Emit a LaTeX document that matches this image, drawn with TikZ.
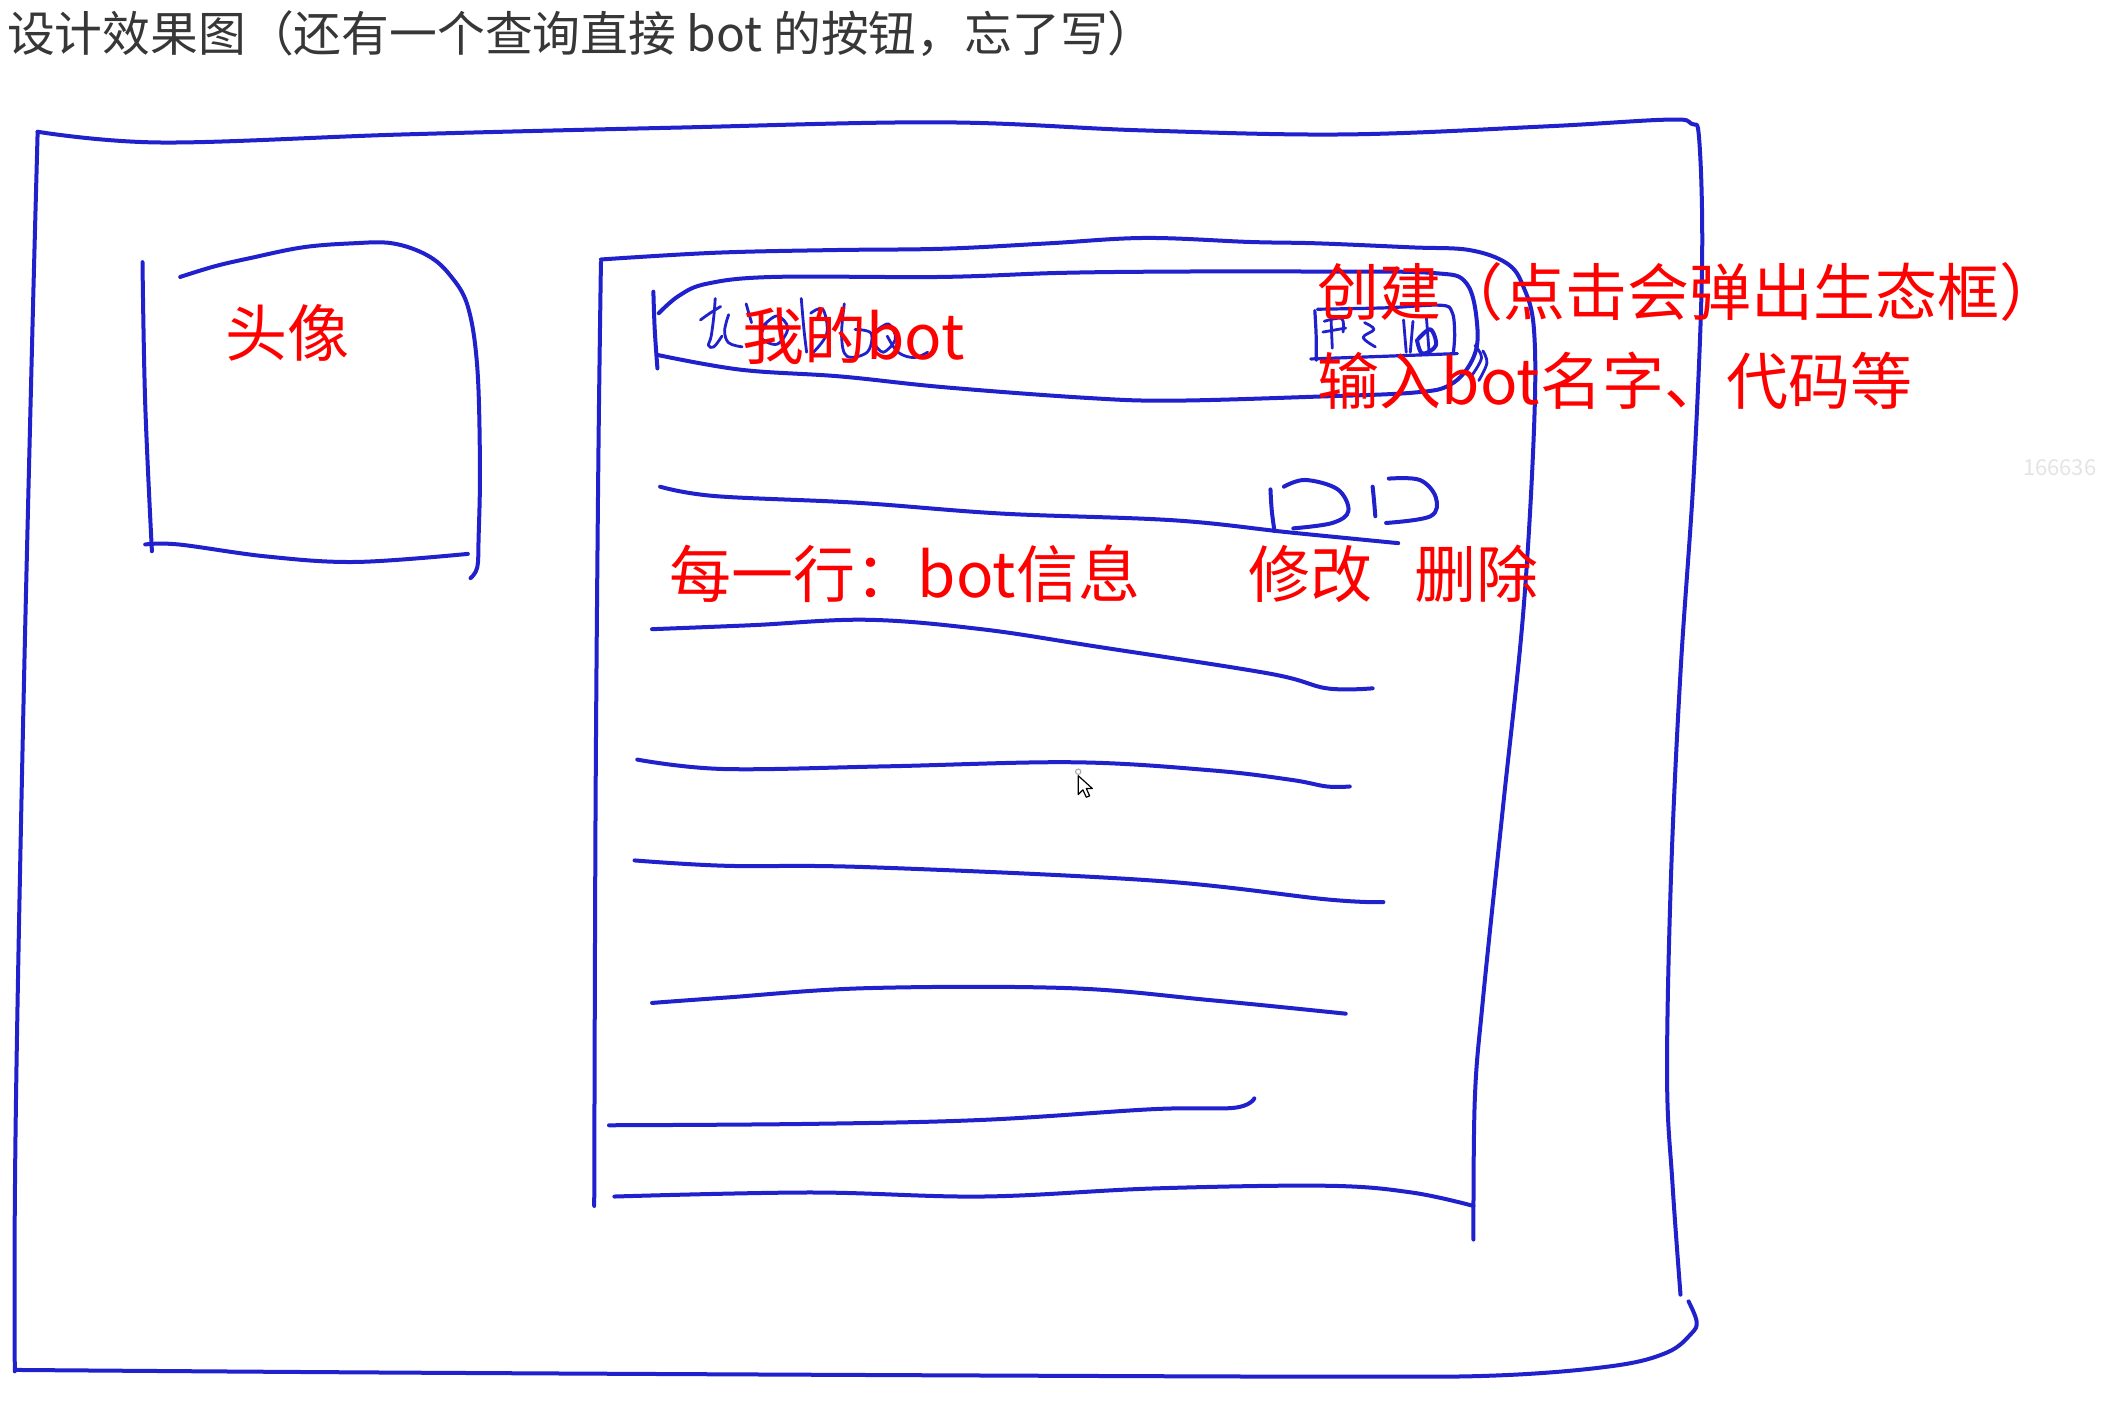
\documentclass[tikz,border=0pt]{standalone}
\usepackage{fontspec}
\newfontfamily\cjk{Noto Sans CJK SC}
\definecolor{penblue}{RGB}{32,32,205}
\definecolor{titlegray}{RGB}{55,55,55}
\definecolor{wmgray}{RGB}{228,228,228}
\begin{document}
\begin{tikzpicture}[x=0.6722pt,y=-0.6722pt,
  pen/.style={draw=penblue,line width=2pt,line cap=round,line join=round},
  thinpen/.style={draw=penblue,line width=1.4pt,line cap=round,line join=round},
  redlabel/.style={text=red,font=\cjk\fontsize{31}{31}\selectfont,inner sep=0pt},
  titletext/.style={text=titlegray,font=\cjk\fontsize{23.9}{23.9}\selectfont,inner sep=0pt},
  watermark/.style={text=wmgray,font=\cjk\fontsize{11}{11}\selectfont,inner sep=0pt}]
\fill[white] (0,0) rectangle (1568,1047);
\useasboundingbox (0,0) rectangle (1568,1047);

% title
\node[titletext,anchor=west] (title) at (5,25) {设计效果图（还有一个查询直接 bot 的按钮，忘了写）};
\node[watermark] (wm) at (1532,348) {166636};

% outer frame
\draw[pen] plot[smooth,tension=0.6] coordinates {(28,98) (120,106) (300,100) (500,95) (700,91) (850,97) (1000,100) (1150,94) (1240,89) (1258,92) (1264,105) (1266,200) (1260,350) (1250,500) (1243,650) (1240,800) (1244,880) (1250,963)};
\draw[pen] plot[smooth,tension=0.6] coordinates {(28,98) (24,250) (18,500) (13,750) (11,900) (11,1020)};
\draw[pen] plot[smooth,tension=0.6] coordinates {(12,1019) (300,1021) (700,1023) (1000,1024) (1116,1023) (1200,1016) (1240,1006) (1258,992) (1262,983) (1256,968)};

% avatar box
\draw[pen] plot[smooth,tension=0.6] coordinates {(106,195) (108,300) (113,410)};
\draw[pen] plot[smooth,tension=0.6] coordinates {(134,206) (160,198) (186,192) (225,184) (262,181) (292,181) (318,190) (335,205) (348,228) (355,273) (357,347) (356,400) (355,422) (350,430)};
\draw[pen] plot[smooth,tension=0.6] coordinates {(108,405) (133,405) (199,414) (265,418) (348,412)};
\node[redlabel] (avatar) at (214,248) {头像};

% inner panel
\draw[pen] plot[smooth,tension=0.6] coordinates {(447,195) (445,350) (443,600) (442,897)};
\draw[pen] plot[smooth,tension=0.6] coordinates {(447,193) (532,188) (620,186) (702,185) (780,181) (852,177) (930,180) (980,181) (1050,184) (1093,186) (1121,196) (1133,213) (1141,245) (1141,320) (1133,456) (1118,600) (1103,744) (1097,818) (1096,922)};
\draw[pen] plot[smooth,tension=0.6] coordinates {(457,890) (603,887) (731,890) (858,884) (987,882) (1050,887) (1096,897)};

% header bar
\draw[pen] plot[smooth,tension=0.6] coordinates {(486,217) (487,245) (489,274)};
\draw[pen] plot[smooth,tension=0.6] coordinates {(490,233) (505,220) (526,211) (575,206) (700,206) (788,203) (873,202) (980,202) (1065,203) (1091,211) (1099,245) (1095,268) (1079,286) (1052,292) (980,295) (873,298) (809,296) (702,288) (625,280) (551,275) (489,264)};
% handwritten scribble under the label
\draw[thinpen] plot[smooth,tension=0.6] coordinates {(521,238) (528,233) (536,228)};
\draw[thinpen] plot[smooth,tension=0.6] coordinates {(532,222) (531,235) (529,250) (527,257) (531,258) (537,250)};
\draw[thinpen] plot[smooth,tension=0.6] coordinates {(542,234) (539,246) (542,255) (552,258)};
\draw[thinpen] plot[smooth,tension=0.6] coordinates {(555,226) (559,240)};
\draw[thinpen] plot[smooth,tension=0.6] coordinates {(568,242) (578,235) (586,244) (578,256) (566,251) (570,241)};
\draw[thinpen] plot[smooth,tension=0.6] coordinates {(596,222) (598,245) (600,262)};
\draw[thinpen] plot[smooth,tension=0.6] coordinates {(603,233) (612,230) (615,248) (605,262)};
\draw[thinpen] plot[smooth,tension=0.6] coordinates {(628,226) (626,250) (630,265) (645,262) (648,248) (636,245)};
\draw[thinpen] plot[smooth,tension=0.6] coordinates {(652,246) (661,241) (666,252) (657,262) (650,255)};
\draw[thinpen] plot[smooth,tension=0.6] coordinates {(660,250) (668,262) (680,266) (690,262)};
\node[redlabel] (mybot) at (635,250) {我的bot};

% create button (handwritten)
\draw[thinpen,line width=1.6pt] plot[smooth,tension=0.6] coordinates {(978,231) (979,250) (979,268)};
\draw[thinpen,line width=1.6pt] plot[smooth,tension=0.6] coordinates {(980,230) (1030,229) (1071,227) (1080,232) (1082,248) (1081,263)};
\draw[thinpen,line width=1.6pt] plot[smooth,tension=0.6] coordinates {(975,267) (1030,265) (1084,263)};
\draw[thinpen] (990,236) -- (991,259);
\draw[thinpen] (984,247) -- (1001,244);
\draw[thinpen] plot[smooth,tension=0.6] coordinates {(985,239) (998,237) (999,247)};
\draw[thinpen] plot[smooth,tension=0.6] coordinates {(1015,240) (1022,245) (1014,251) (1023,258)};
\draw[thinpen] plot[smooth,tension=0.6] coordinates {(1044,238) (1046,262)};
\draw[thinpen] plot[smooth,tension=0.6] coordinates {(1051,239) (1049,262)};
\draw[thinpen,line width=2pt] plot[smooth,tension=0.6] coordinates {(1055,252) (1064,245) (1068,257) (1058,263) (1054,253)};
\draw[thinpen] plot[smooth,tension=0.6] coordinates {(1061,236) (1063,262)};
\draw[thinpen] plot[smooth,tension=0.6] coordinates {(1097,257) (1102,266) (1095,279)};
\draw[thinpen] plot[smooth,tension=0.6] coordinates {(1103,261) (1106,270) (1100,283)};
\node[redlabel,anchor=west] (create) at (980,217) {创建（点击会弹出生态框）};
\node[redlabel,anchor=west] (createinfo) at (980,283) {输入bot名字、代码等};

% row line 1 with icons
\draw[pen] plot[smooth,tension=0.6] coordinates {(491,362) (532,369) (638,374) (745,382) (873,387) (959,396) (1040,404)};
\draw[pen] plot[smooth,tension=0.6] coordinates {(945,364) (946,380) (948,395)};
\draw[pen] plot[smooth,tension=0.6] coordinates {(955,362) (971,357) (995,364) (1003,380) (991,389) (962,393)};
\draw[pen] plot[smooth,tension=0.6] coordinates {(1021,362) (1022,372) (1023,384)};
\draw[pen] plot[smooth,tension=0.6] coordinates {(1033,356) (1056,357) (1068,370) (1064,384) (1031,389)};

\node[redlabel,anchor=west] (rowinfo) at (498,427) {每一行：bot信息};
\node[redlabel,anchor=west] (edit) at (928,427) {修改};
\node[redlabel,anchor=west] (delete) at (1052,427) {删除};

% row lines
\draw[pen] plot[smooth,tension=0.6] coordinates {(485,468) (560,465) (645,461) (730,468) (816,481) (944,501) (987,512) (1021,512)};
\draw[pen] plot[smooth,tension=0.6] coordinates {(474,565) (538,572) (660,570) (799,567) (901,573) (960,580) (987,585) (1004,585)};
\draw[pen] plot[smooth,tension=0.6] coordinates {(472,640) (540,644) (645,645) (858,655) (987,669) (1029,671)};
\draw[pen] plot[smooth,tension=0.6] coordinates {(485,746) (540,742) (645,735) (795,735) (901,744) (1001,754)};
\draw[pen] plot[smooth,tension=0.6] coordinates {(453,837) (600,836) (731,833) (858,825) (918,824) (933,817)};

% cursor
\draw[gray!70,line width=0.5pt] (802,574) circle (2);
\draw[black,fill=white,line width=0.6pt,line join=round] (802,577) -- (802,591) -- (805.5,587.5) -- (808,593) -- (810.5,592) -- (808,586.5) -- (812.5,586.5) -- cycle;
\end{tikzpicture}
\end{document}
